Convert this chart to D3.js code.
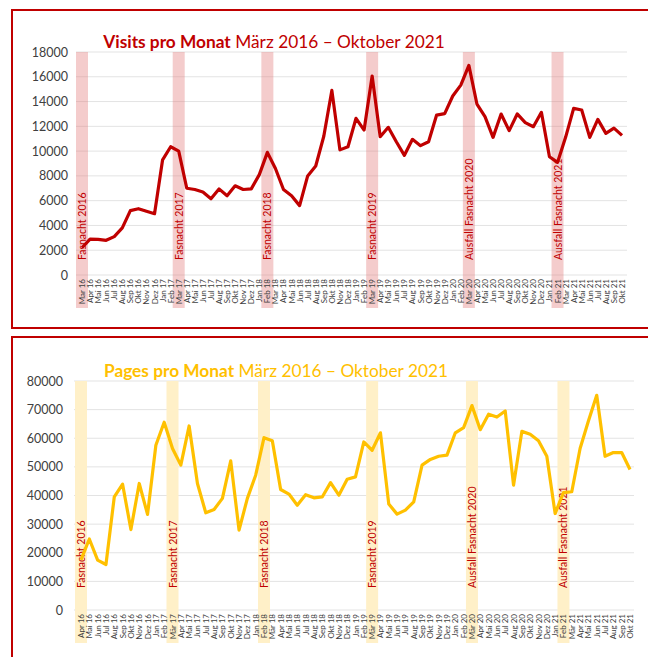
<!DOCTYPE html>
<html>
<head>
<meta charset="utf-8">
<script src="https://cdn.jsdelivr.net/npm/d3@7"></script>
<style>
  body { margin: 0; background: #fff; }
  svg { display: block; font-family: Lato, "Liberation Sans", sans-serif; }
</style>
</head>
<body>
<div id="chart"></div>
<script>
// Visits: Mar 16 .. Okt 21
var visitMonths = [
  "Mar 16","Apr 16","Mai 16","Jun 16","Jul 16","Aug 16","Sep 16","Okt 16","Nov 16","Dez 16",
  "Jan 17","Feb 17","Mar 17","Apr 17","Mai 17","Jun 17","Jul 17","Aug 17","Sep 17","Okt 17","Nov 17","Dez 17",
  "Jan 18","Feb 18","Mar 18","Apr 18","Mai 18","Jun 18","Jul 18","Aug 18","Sep 18","Okt 18","Nov 18","Dez 18",
  "Jan 19","Feb 19","Mar 19","Apr 19","Mai 19","Jun 19","Jul 19","Aug 19","Sep 19","Okt 19","Nov 19","Dez 19",
  "Jan 20","Feb 20","Mar 20","Apr 20","Mai 20","Jun 20","Jul 20","Aug 20","Sep 20","Okt 20","Nov 20","Dez 20",
  "Jan 21","Feb 21","Mar 21","Apr 21","Mai 21","Jun 21","Jul 21","Aug 21","Sep 21","Okt 21"
];
var visits = [
  2200, 2900, 2880, 2800, 3100, 3800, 5200, 5350, 5150, 4950,
  9300, 10350, 10000, 7000, 6900, 6700, 6150, 6950, 6400, 7200, 6900, 6950,
  8100, 9900, 8600, 6900, 6400, 5600, 8000, 8800, 11200, 14900, 10100, 10350,
  12650, 11700, 16060, 11160, 11920, 10760, 9660, 10950, 10440, 10760, 12910, 13020,
  14450, 15330, 16920, 13800, 12780, 11110, 12990, 11650, 13000, 12300, 11970, 13130,
  9550, 9090, 11110, 13450, 13320, 11110, 12560, 11430, 11860, 11270
];
var visitTicks = [0, 2000, 4000, 6000, 8000, 10000, 12000, 14000, 16000, 18000];
var visitMarks = ["Mar 16", "Mar 17", "Feb 18", "Mar 19", "Mar 20", "Feb 21"];

// Pages: Apr 16 .. Okt 21
var pageMonths = [
  "Apr 16","Mai 16","Jun 16","Jul 16","Aug 16","Sep 16","Okt 16","Nov 16","Dez 16",
  "Jan 17","Feb 17","Mär 17","Apr 17","Mai 17","Jun 17","Jul 17","Aug 17","Sep 17","Okt 17","Nov 17","Dez 17",
  "Jan 18","Feb 18","Mär 18","Apr 18","Mai 18","Jun 18","Jul 18","Aug 18","Sep 18","Okt 18","Nov 18","Dez 18",
  "Jan 19","Feb 19","Mär 19","Apr 19","Mai 19","Jun 19","Jul 19","Aug 19","Sep 19","Okt 19","Nov 19","Dez 19",
  "Jan 20","Feb 20","Mär 20","Apr 20","Mai 20","Jun 20","Jul 20","Aug 20","Sep 20","Okt 20","Nov 20","Dez 20",
  "Jan 21","Feb 21","Mär 21","Apr 21","Mai 21","Jun 21","Jul 21","Aug 21","Sep 21","Okt 21"
];
var pages = [
  17500, 24800, 17400, 15900, 39500, 43950, 28100, 44200, 33400,
  57560, 65600, 56400, 50600, 64300, 44200, 33950, 35100, 39000, 52100, 27900, 39000,
  47100, 60200, 59100, 42100, 40500, 36600, 40300, 39200, 39500, 44500, 40100, 45700,
  46500, 58700, 55800, 61900, 37000, 33500, 34900, 37800, 50600, 52600, 53700, 54100,
  61900, 63700, 71400, 63000, 68400, 67400, 69500, 43600, 62400, 61400, 59100, 53700,
  33700, 41000, 41300, 56400, 66000, 75000, 53700, 55000, 55000, 49100
];
var pageTicks = [0, 10000, 20000, 30000, 40000, 50000, 60000, 70000, 80000];
var pageMarks = ["Apr 16", "Mär 17", "Feb 18", "Mär 19", "Mär 20", "Feb 21"];

var markTexts = ["Fasnacht 2016", "Fasnacht 2017", "Fasnacht 2018", "Fasnacht 2019",
  "Ausfall Fasnacht 2020", "Ausfall Fasnacht 2021"];

var W = 648, H = 657;
var red = "#c00000";

var svg = d3.select("#chart").append("svg")
  .attr("width", W)
  .attr("height", H);

function drawPanel(o) {
  // frame
  svg.append("rect")
    .attr("x", o.frame[0]).attr("y", o.frame[1])
    .attr("width", o.frame[2]).attr("height", o.frame[3])
    .attr("fill", "none")
    .attr("stroke", red)
    .attr("stroke-width", 2);

  var x = d3.scalePoint().domain(o.months).range([o.x0, o.x1]);
  var y = d3.scaleLinear().domain([0, o.ticks[o.ticks.length - 1]]).range([o.y0, o.y1]);

  var g = svg.append("g");

  // gridlines
  g.selectAll(".grid")
    .data(o.ticks)
    .enter().append("line")
    .attr("x1", o.gx0).attr("x2", o.gx1)
    .attr("y1", function (d) { return y(d); })
    .attr("y2", function (d) { return y(d); })
    .attr("stroke", "#e3e3e3")
    .attr("stroke-width", 1);

  // highlight bands
  g.selectAll(".band")
    .data(o.marks)
    .enter().append("rect")
    .attr("x", function (d) { return x(d) - 6; })
    .attr("y", y.range()[1])
    .attr("width", 12)
    .attr("height", o.bandBottom - y.range()[1])
    .attr("fill", o.bandColor);

  // y axis labels
  g.selectAll(".ylab")
    .data(o.ticks)
    .enter().append("text")
    .attr("x", o.yLabelX)
    .attr("y", function (d) { return y(d) + 4.5; })
    .attr("text-anchor", "end")
    .attr("font-size", "12.5px")
    .attr("fill", "#404040")
    .text(function (d) { return d; });

  // x axis labels
  g.selectAll(".xlab")
    .data(o.months)
    .enter().append("text")
    .attr("transform", function (d) {
      return "translate(" + (x(d) + 3) + "," + (o.y0 + 4) + ") rotate(-90)";
    })
    .attr("text-anchor", "end")
    .attr("font-size", "8px")
    .attr("fill", "#404040")
    .text(function (d) { return d; });

  // event labels
  g.selectAll(".mlab")
    .data(o.marks)
    .enter().append("text")
    .attr("transform", function (d) {
      return "translate(" + (x(d) + 4) + "," + o.markY + ") rotate(-90)";
    })
    .attr("font-size", "10.5px")
    .attr("fill", red)
    .text(function (d, i) { return markTexts[i]; });

  // series line
  var line = d3.line()
    .x(function (d, i) { return x(o.months[i]); })
    .y(function (d) { return y(d); });

  g.append("path")
    .datum(o.values)
    .attr("d", line)
    .attr("fill", "none")
    .attr("stroke", o.color)
    .attr("stroke-width", 3.2)
    .attr("stroke-linejoin", "round");

  // title
  var t = svg.append("text")
    .attr("x", o.titleX)
    .attr("y", o.titleY)
    .attr("text-anchor", "middle")
    .attr("font-size", "17.3px")
    .attr("fill", o.color);
  t.append("tspan").attr("font-weight", "bold").text(o.titleBold);
  t.append("tspan").text(" März 2016 – Oktober 2021");
}

drawPanel({
  frame: [12, 10, 660, 318],
  months: visitMonths, values: visits, ticks: visitTicks, marks: visitMarks,
  x0: 82, x1: 622, y0: 275, y1: 52, gx0: 76, gx1: 627,
  bandBottom: 308, bandColor: "rgba(225,120,120,0.38)",
  yLabelX: 68, markY: 260,
  color: red, titleBold: "Visits pro Monat", titleX: 274, titleY: 48
});

drawPanel({
  frame: [12, 337, 660, 340],
  months: pageMonths, values: pages, ticks: pageTicks, marks: pageMarks,
  x0: 81, x1: 630, y0: 610, y1: 381, gx0: 74, gx1: 634,
  bandBottom: 643, bandColor: "#fff0c8",
  yLabelX: 63, markY: 588,
  color: "#ffc000", titleBold: "Pages pro Monat", titleX: 276, titleY: 377
});
</script>
</body>
</html>
